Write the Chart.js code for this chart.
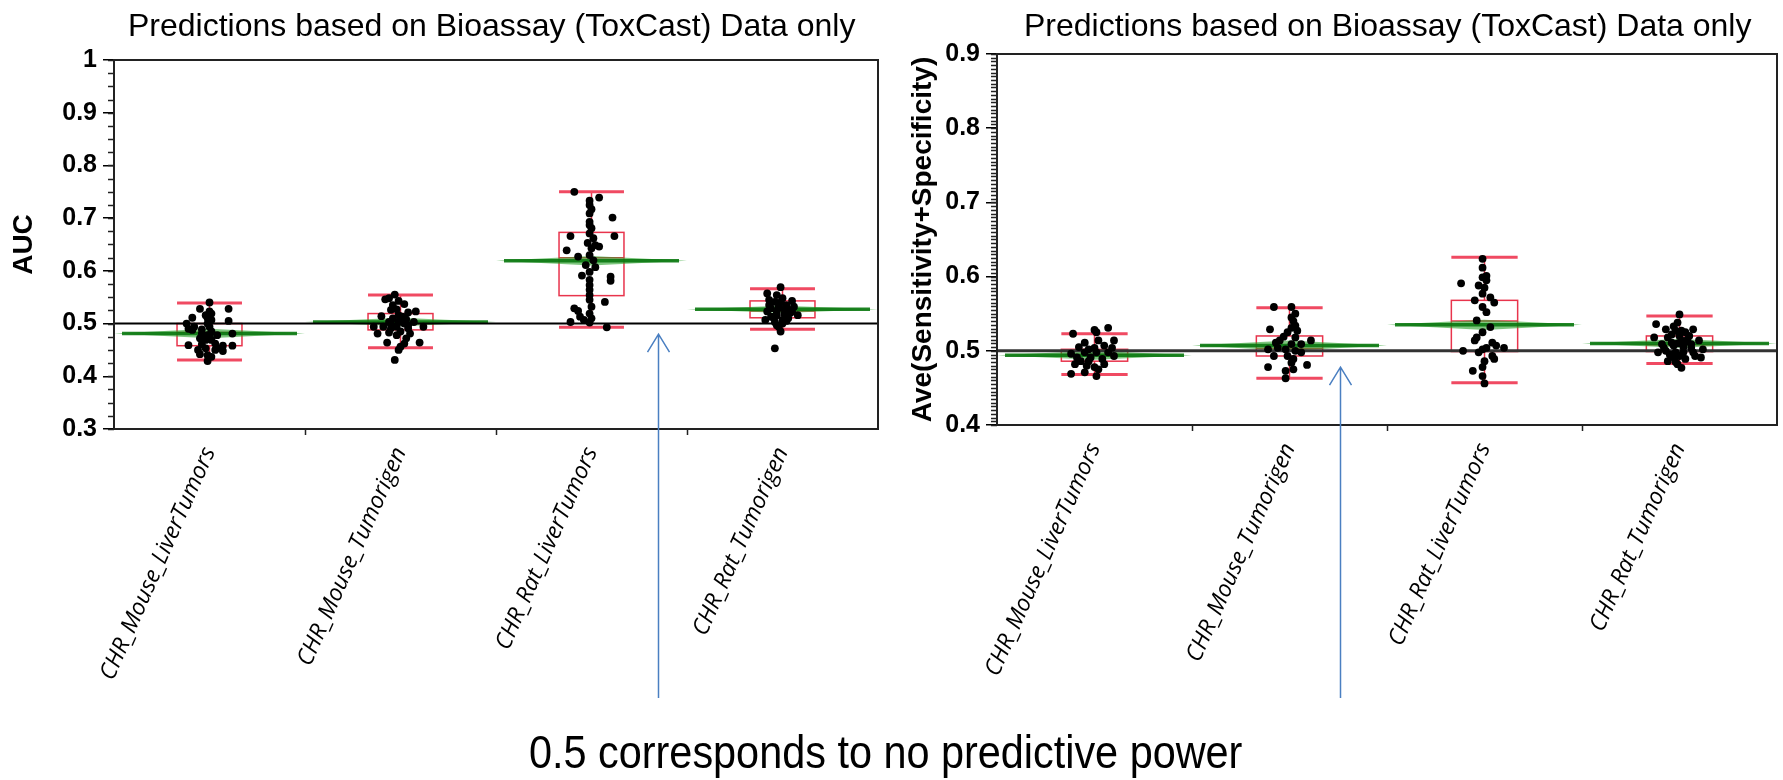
<!DOCTYPE html>
<html>
<head>
<meta charset="utf-8">
<script src="https://cdn.jsdelivr.net/npm/chart.js@4.4.1/dist/chart.umd.min.js"></script>
<style>
  body { margin: 0; background: #fff; }
  #page { position: relative; width: 1783px; height: 780px; overflow: hidden; font-family: 'Liberation Sans', Arial, sans-serif; }
  canvas { position: absolute; top: 0; }
  #auc { left: 0; }
  #ave { left: 890px; }
  .title { position: absolute; font-size: 32px; line-height: 1; white-space: nowrap; color: #000; }
  #caption { position: absolute; left: 529px; top: 729px; font-size: 46px; line-height: 1; white-space: nowrap; transform: scaleX(0.9); transform-origin: left top; }
</style>
</head>
<body>
<div id="page">
  <canvas id="auc" width="890" height="780"></canvas>
  <canvas id="ave" width="893" height="780"></canvas>
  <div class="title" style="left:128px; top:9px;">Predictions based on Bioassay (ToxCast) Data only</div>
  <div class="title" style="left:1024px; top:9px;">Predictions based on Bioassay (ToxCast) Data only</div>
  <div id="caption">0.5 corresponds to no predictive power</div>
</div>
<script>
const categories = ['CHR_Mouse_LiverTumors', 'CHR_Mouse_Tumorigen', 'CHR_Rat_LiverTumors', 'CHR_Rat_Tumorigen'];

// AUC panel - one value per model run, jitter is the sideways spread in category units
const aucMouseLiver = [0.540, 0.528, 0.528, 0.523, 0.511, 0.510, 0.505, 0.500, 0.500, 0.490, 0.488, 0.489, 0.494, 0.485, 0.478, 0.472, 0.481, 0.459, 0.461, 0.462, 0.458, 0.458, 0.450, 0.453, 0.450, 0.448, 0.442, 0.440, 0.437, 0.429, 0.469, 0.475, 0.469, 0.478, 0.481, 0.507, 0.516, 0.519, 0.494, 0.453];
const aucMouseLiverJitter = [0.00, -0.05, 0.10, 0.00, -0.09, -0.01, 0.10, -0.12, -0.01, -0.11, -0.09, -0.04, 0.00, 0.01, -0.01, -0.05, 0.12, -0.11, -0.04, 0.03, 0.07, 0.12, -0.06, -0.02, 0.03, 0.07, -0.05, -0.01, 0.01, -0.01, -0.02, 0.00, 0.01, 0.04, -0.04, 0.01, -0.02, 0.01, -0.08, 0.04];
const aucMouseTumor = [0.555, 0.548, 0.546, 0.543, 0.535, 0.537, 0.526, 0.527, 0.523, 0.514, 0.516, 0.510, 0.508, 0.503, 0.500, 0.503, 0.494, 0.494, 0.491, 0.494, 0.491, 0.494, 0.481, 0.483, 0.485, 0.481, 0.464, 0.472, 0.464, 0.456, 0.462, 0.450, 0.431, 0.499, 0.497, 0.503, 0.513, 0.521, 0.478];
const aucMouseTumorJitter = [-0.03, -0.06, -0.08, -0.01, -0.04, 0.02, -0.05, -0.02, 0.08, -0.10, -0.01, -0.04, 0.03, 0.07, 0.02, -0.06, -0.14, -0.09, -0.05, -0.02, 0.04, 0.12, -0.12, -0.06, 0.00, 0.05, -0.07, 0.03, 0.10, 0.00, 0.02, -0.01, -0.03, -0.05, 0.04, -0.01, 0.01, 0.04, -0.02];
const aucRatLiver = [0.750, 0.739, 0.733, 0.725, 0.717, 0.709, 0.701, 0.693, 0.687, 0.681, 0.666, 0.666, 0.671, 0.662, 0.653, 0.646, 0.639, 0.627, 0.630, 0.620, 0.611, 0.607, 0.598, 0.591, 0.589, 0.583, 0.581, 0.573, 0.564, 0.554, 0.541, 0.545, 0.529, 0.532, 0.524, 0.519, 0.513, 0.503, 0.510, 0.502, 0.493, 0.507, 0.649, 0.643];
const aucRatLiverJitter = [-0.09, 0.04, -0.01, -0.01, 0.00, -0.01, 0.11, -0.01, -0.01, 0.00, -0.11, 0.12, -0.01, 0.01, -0.02, 0.04, -0.13, -0.07, -0.01, 0.01, -0.03, 0.02, -0.01, -0.05, 0.10, -0.01, 0.10, -0.01, -0.01, -0.01, 0.07, -0.01, -0.09, 0.00, -0.07, -0.01, -0.06, -0.11, 0.00, -0.01, 0.08, -0.04, 0.02, 0.00];
const aucRatTumor = [0.569, 0.557, 0.554, 0.548, 0.545, 0.543, 0.538, 0.532, 0.529, 0.527, 0.523, 0.521, 0.516, 0.516, 0.507, 0.503, 0.507, 0.510, 0.494, 0.485, 0.453, 0.535, 0.535, 0.500, 0.513, 0.523, 0.523, 0.541, 0.530, 0.518, 0.512, 0.526, 0.540, 0.505, 0.497, 0.520];
const aucRatTumorJitter = [-0.01, -0.08, -0.03, 0.00, -0.07, 0.05, -0.02, 0.06, -0.06, 0.01, -0.08, 0.02, 0.08, -0.03, -0.09, -0.04, 0.00, 0.03, -0.02, -0.01, -0.04, -0.07, 0.02, 0.00, -0.06, 0.05, -0.03, -0.04, -0.02, 0.01, -0.05, 0.03, -0.01, 0.02, -0.03, 0.04];

// AUC box plot summaries per category
const aucWhiskerHi = [0.539, 0.554, 0.750, 0.566];
const aucQ3 = [0.500, 0.519, 0.673, 0.543];
const aucMedian = [0.483, 0.500, 0.625, 0.524];
const aucQ1 = [0.458, 0.488, 0.553, 0.511];
const aucWhiskerLo = [0.431, 0.454, 0.493, 0.489];
const aucMean = [0.481, 0.503, 0.619, 0.527];
const aucMeanCI = [0.009, 0.008, 0.009, 0.007];

// Ave(Sensitivity+Specificity) panel
const aveMouseLiver = [0.531, 0.523, 0.528, 0.525, 0.514, 0.511, 0.514, 0.505, 0.507, 0.504, 0.502, 0.496, 0.498, 0.498, 0.493, 0.491, 0.491, 0.489, 0.482, 0.480, 0.478, 0.475, 0.469, 0.471, 0.466, 0.486, 0.482, 0.486, 0.498, 0.504];
const aveMouseLiverJitter = [0.07, -0.11, 0.00, 0.01, 0.10, -0.05, 0.02, -0.08, 0.05, 0.09, -0.03, -0.12, -0.05, 0.01, 0.10, -0.09, -0.02, 0.04, -0.10, -0.04, 0.00, 0.02, -0.12, -0.05, 0.01, -0.03, 0.05, -0.07, 0.07, 0.00];
const aveMouseTumor = [0.559, 0.559, 0.550, 0.540, 0.529, 0.531, 0.525, 0.519, 0.518, 0.514, 0.511, 0.509, 0.509, 0.502, 0.502, 0.500, 0.493, 0.493, 0.489, 0.478, 0.484, 0.481, 0.473, 0.475, 0.463, 0.514, 0.527, 0.504, 0.498, 0.534, 0.545];
const aveMouseTumorJitter = [-0.08, 0.01, 0.03, 0.02, -0.10, 0.01, -0.01, -0.03, 0.03, 0.11, -0.07, 0.01, 0.06, -0.11, -0.02, 0.03, -0.08, -0.01, 0.02, -0.11, 0.01, 0.09, -0.02, 0.02, -0.02, -0.05, 0.04, -0.06, 0.06, 0.03, 0.01];
const aveRatLiver = [0.624, 0.612, 0.599, 0.591, 0.585, 0.601, 0.588, 0.595, 0.577, 0.572, 0.568, 0.565, 0.559, 0.552, 0.541, 0.532, 0.525, 0.514, 0.511, 0.507, 0.504, 0.500, 0.504, 0.498, 0.493, 0.486, 0.473, 0.478, 0.466, 0.456, 0.489, 0.518, 0.502];
const aveRatLiverJitter = [-0.01, -0.01, -0.01, -0.12, 0.00, 0.01, -0.03, 0.01, -0.01, 0.03, -0.05, 0.05, -0.01, 0.01, -0.04, 0.03, -0.01, -0.05, 0.04, 0.06, 0.01, -0.11, 0.10, -0.03, 0.04, 0.00, -0.06, -0.01, -0.01, 0.00, 0.05, -0.04, -0.01];
const aveRatTumor = [0.549, 0.536, 0.529, 0.538, 0.529, 0.527, 0.520, 0.518, 0.518, 0.514, 0.514, 0.509, 0.507, 0.504, 0.502, 0.500, 0.498, 0.493, 0.498, 0.491, 0.489, 0.486, 0.482, 0.477, 0.509, 0.511, 0.525, 0.504, 0.498, 0.498, 0.491, 0.533, 0.520, 0.510, 0.505, 0.495, 0.515, 0.493, 0.485, 0.512, 0.522, 0.527];
const aveRatTumorJitter = [0.00, -0.12, 0.07, -0.01, -0.07, -0.02, 0.05, -0.13, -0.06, 0.10, 0.01, -0.09, -0.03, 0.06, 0.12, -0.07, 0.02, 0.08, -0.11, -0.03, 0.03, -0.06, -0.01, 0.01, 0.06, -0.04, 0.03, -0.08, 0.07, -0.02, 0.11, -0.03, 0.00, -0.01, 0.02, -0.05, 0.04, 0.00, -0.02, 0.03, -0.04, 0.01];

const aveWhiskerHi = [0.523, 0.558, 0.626, 0.547];
const aveQ3 = [0.502, 0.520, 0.568, 0.520];
const aveMedian = [0.495, 0.503, 0.540, 0.508];
const aveQ1 = [0.486, 0.493, 0.499, 0.499];
const aveWhiskerLo = [0.468, 0.463, 0.457, 0.483];
const aveMean = [0.494, 0.507, 0.535, 0.510];
const aveMeanCI = [0.006, 0.007, 0.007, 0.006];

const noPowerLevel = 0.5;

function toPoints(groups) {
  const pts = [];
  groups.forEach(([vals, jit], i) => {
    vals.forEach((v, k) => pts.push({ x: i + jit[k], y: v }));
  });
  return pts;
}

// boxes, mean diamonds, frame, minor ticks and the blue arrow, all placed through the chart scales
function panelPlugin(p) {
  return {
    id: 'panel',
    beforeDatasetsDraw(chart) {
      const { ctx, chartArea: a, scales: { x, y } } = chart;
      ctx.save();
      const boxHalf = 0.17;
      p.q1.forEach((_, i) => {
        const xl = x.getPixelForValue(i - boxHalf);
        const xr = x.getPixelForValue(i + boxHalf);
        const xc = x.getPixelForValue(i);
        ctx.strokeStyle = '#e8344c';
        ctx.lineWidth = 1.5;
        ctx.strokeRect(xl, y.getPixelForValue(p.q3[i]), xr - xl, y.getPixelForValue(p.q1[i]) - y.getPixelForValue(p.q3[i]));
        ctx.beginPath();
        ctx.moveTo(xl, y.getPixelForValue(p.median[i]));
        ctx.lineTo(xr, y.getPixelForValue(p.median[i]));
        ctx.moveTo(xc, y.getPixelForValue(p.q3[i]));
        ctx.lineTo(xc, y.getPixelForValue(p.hi[i]));
        ctx.moveTo(xc, y.getPixelForValue(p.q1[i]));
        ctx.lineTo(xc, y.getPixelForValue(p.lo[i]));
        ctx.stroke();
        ctx.strokeStyle = '#f04a62';
        ctx.lineWidth = 3;
        ctx.beginPath();
        ctx.moveTo(xl, y.getPixelForValue(p.hi[i]));
        ctx.lineTo(xr, y.getPixelForValue(p.hi[i]));
        ctx.moveTo(xl, y.getPixelForValue(p.lo[i]));
        ctx.lineTo(xr, y.getPixelForValue(p.lo[i]));
        ctx.stroke();
      });
      p.mean.forEach((m, i) => {
        const l = x.getPixelForValue(i - 0.5), r = x.getPixelForValue(i + 0.5), c = x.getPixelForValue(i);
        const ym = y.getPixelForValue(m);
        ctx.fillStyle = 'rgba(40,160,40,0.6)';
        ctx.beginPath();
        ctx.moveTo(l, ym);
        ctx.lineTo(c, y.getPixelForValue(m + p.ci[i]));
        ctx.lineTo(r, ym);
        ctx.lineTo(c, y.getPixelForValue(m - p.ci[i]));
        ctx.closePath();
        ctx.fill();
        ctx.strokeStyle = 'rgba(10,120,16,0.9)';
        ctx.lineWidth = 3.5;
        ctx.beginPath();
        ctx.moveTo(l + 8, ym);
        ctx.lineTo(r - 8, ym);
        ctx.stroke();
      });
      ctx.strokeStyle = p.refColor;
      ctx.lineWidth = p.refWidth;
      ctx.beginPath();
      ctx.moveTo(a.left, y.getPixelForValue(noPowerLevel));
      ctx.lineTo(a.right, y.getPixelForValue(noPowerLevel));
      ctx.stroke();
      ctx.restore();
    },
    afterDraw(chart) {
      const { ctx, chartArea: a, scales: { x, y } } = chart;
      ctx.save();
      ctx.strokeStyle = '#222';
      ctx.lineWidth = 2;
      ctx.strokeRect(a.left, a.top, a.right - a.left, a.bottom - a.top);
      ctx.lineWidth = 1.5;
      ctx.beginPath();
      for (let v = y.min; v <= y.max + 1e-9; v += p.minorStep) {
        const py = Math.round(y.getPixelForValue(v)) + 0.5;
        ctx.moveTo(a.left - 6, py);
        ctx.lineTo(a.left, py);
      }
      [0.5, 1.5, 2.5].forEach(v => {
        const px = Math.round(x.getPixelForValue(v)) + 0.5;
        ctx.moveTo(px, a.bottom);
        ctx.lineTo(px, a.bottom + 6);
      });
      ctx.stroke();
      // arrow pointing at the no-predictive-power line
      const ax = Math.round(x.getPixelForValue(p.arrowAt)) + 0.5;
      const tip = y.getPixelForValue(p.arrowTip);
      ctx.strokeStyle = '#4a7fc1';
      ctx.lineWidth = 1.5;
      ctx.beginPath();
      ctx.moveTo(ax, 698);
      ctx.lineTo(ax, tip);
      ctx.moveTo(ax - 11, tip + 18);
      ctx.lineTo(ax, tip);
      ctx.lineTo(ax + 11, tip + 18);
      ctx.stroke();
      ctx.restore();
    }
  };
}

function buildPanel(id, opts) {
  new Chart(document.getElementById(id), {
    type: 'scatter',
    data: {
      datasets: [{
        data: toPoints(opts.groups),
        backgroundColor: '#000',
        borderWidth: 0,
        pointRadius: 3.9,
        pointHoverRadius: 3.9,
      }],
    },
    options: {
      responsive: false,
      animation: false,
      events: [],
      layout: { padding: { top: opts.top, right: opts.right, left: 0, bottom: 0 } },
      plugins: { legend: { display: false }, tooltip: { enabled: false } },
      scales: {
        x: {
          type: 'linear',
          min: -0.5,
          max: 3.5,
          afterBuildTicks: s => { s.ticks = categories.map((_, i) => ({ value: i })); },
          afterFit: s => { s.height = 780 - opts.bottom; },
          grid: { display: false },
          border: { display: false },
          ticks: {
            autoSkip: false,
            minRotation: 66,
            maxRotation: 66,
            padding: 6,
            color: '#000',
            font: { family: 'Open Sans', size: 23, style: 'italic' },
            callback: v => categories[v],
          },
        },
        y: {
          min: opts.min,
          max: opts.max,
          afterFit: s => { s.width = opts.left; },
          grid: { drawOnChartArea: false, tickLength: 11, color: '#000', lineWidth: 1.5 },
          border: { display: false },
          ticks: {
            stepSize: 0.1,
            padding: 6,
            color: '#000',
            font: { family: 'Liberation Sans', size: 25, weight: 'bold' },
            callback: v => String(Math.round(v * 10) / 10),
          },
          title: {
            display: true,
            text: opts.yTitle,
            color: '#000',
            font: { family: 'Liberation Sans', size: 28, weight: 'bold' },
            padding: { top: opts.titlePad, bottom: 0 },
          },
        },
      },
    },
    plugins: [panelPlugin(opts.panel)],
  });
}

buildPanel('auc', {
  groups: [[aucMouseLiver, aucMouseLiverJitter], [aucMouseTumor, aucMouseTumorJitter], [aucRatLiver, aucRatLiverJitter], [aucRatTumor, aucRatTumorJitter]],
  min: 0.3, max: 1, top: 60, right: 12, left: 114, bottom: 429,
  yTitle: 'AUC', titlePad: 7,
  panel: { q1: aucQ1, q3: aucQ3, median: aucMedian, hi: aucWhiskerHi, lo: aucWhiskerLo, mean: aucMean, ci: aucMeanCI,
           minorStep: 0.025, refColor: '#000', refWidth: 2, arrowAt: 2.35, arrowTip: 0.48 },
});

buildPanel('ave', {
  groups: [[aveMouseLiver, aveMouseLiverJitter], [aveMouseTumor, aveMouseTumorJitter], [aveRatLiver, aveRatLiverJitter], [aveRatTumor, aveRatTumorJitter]],
  min: 0.4, max: 0.9, top: 54, right: 6, left: 107, bottom: 425,
  yTitle: 'Ave(Sensitivity+Specificity)', titlePad: 16,
  panel: { q1: aveQ1, q3: aveQ3, median: aveMedian, hi: aveWhiskerHi, lo: aveWhiskerLo, mean: aveMean, ci: aveMeanCI,
           minorStep: 0.005, refColor: '#333', refWidth: 3, arrowAt: 1.26, arrowTip: 0.478 },
});
</script>
</body>
</html>
